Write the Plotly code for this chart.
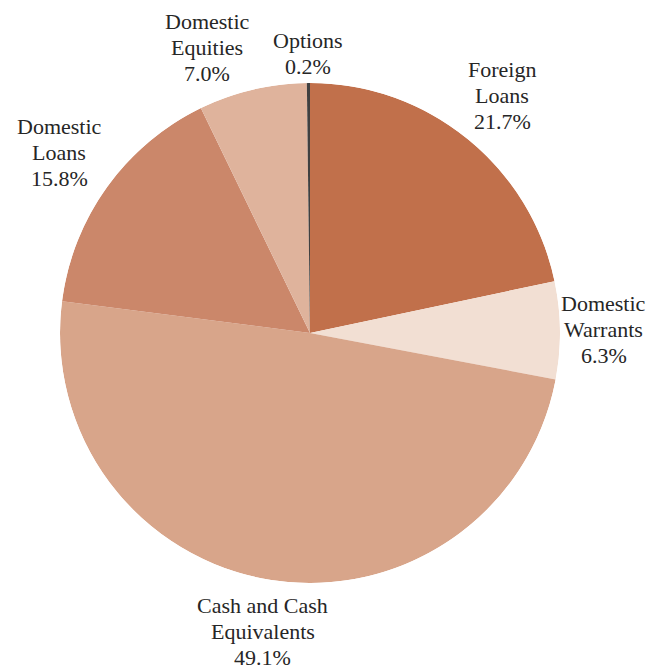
import math
import plotly.graph_objects as go

# ---- data ----
label_lines = [["Foreign", "Loans"], ["Domestic", "Warrants"], ["Cash and Cash", "Equivalents"],
               ["Domestic", "Loans"], ["Domestic", "Equities"], ["Options"]]
labels = [" ".join(l) for l in label_lines]
values = [21.7, 6.3, 49.1, 15.8, 7.0, 0.2]
colors = ["#C1704B", "#F2DFD3", "#D8A58A", "#CB876A", "#DFB39C", "#404040"]

W, H = 662, 670
FONT = "Liberation Serif, Times New Roman, serif"
FS = 22
LINE = 26
TXT = "#262626"

# pie geometry (pixels)
CX, CY, R = 310, 333, 250
dom_x = [(CX - R) / W, (CX + R) / W]
dom_y = [1 - (CY + R) / H, 1 - (CY - R) / H]

total = sum(values)
widths = [v / total * 360 for v in values]
mids = []
cum = 0
for w in widths:
    mids.append(cum + w / 2)
    cum += w

fig = go.Figure(go.Barpolar(
    r=[1] * len(values),
    theta=mids,
    width=widths,
    marker=dict(color=colors, line=dict(width=0)),
    text=labels,
    showlegend=False,
    hoverinfo="skip",
))

# ---- label placement derived from slice angles ----
texts = [lines + [f"{v / total * 100:.1f}%"] for lines, v in zip(label_lines, values)]


def box_size(lines):
    w = max(len(s) for s in lines) * FS * 0.46
    h = len(lines) * LINE
    return w, h


def place(ang, w, h, gap=3):
    ux, uy = math.sin(ang), -math.cos(ang)
    d = R + gap + abs(ux) * w / 2 + abs(uy) * h / 2
    return CX + d * ux, CY + d * uy


angles = [math.radians(m) for m in mids]
sizes = [box_size(t) for t in texts]
PAD = 24


def overlap(i, j):
    xi, yi = place(angles[i], *sizes[i])
    xj, yj = place(angles[j], *sizes[j])
    return (abs(xi - xj) < (sizes[i][0] + sizes[j][0]) / 2 + PAD and
            abs(yi - yj) < (sizes[i][1] + sizes[j][1]) / 2)


# push the larger-slice label away from a smaller neighbour when they collide
n = len(values)
for i in range(n):
    j = (i + 1) % n
    for _ in range(80):
        if not overlap(i, j):
            break
        if values[i] >= values[j]:
            angles[i] -= math.radians(0.5)
        else:
            angles[j] += math.radians(0.5)

for t, ang, (w, h) in zip(texts, angles, sizes):
    x, y = place(ang, w, h)
    top = y - (len(t) - 1) * LINE / 2
    for k, s in enumerate(t):
        fig.add_annotation(
            x=x / W, y=1 - (top + k * LINE) / H, xref="paper", yref="paper",
            text=s, showarrow=False, xanchor="center", yanchor="middle",
            font=dict(family=FONT, size=FS, color=TXT),
        )

fig.update_layout(
    width=W, height=H,
    margin=dict(l=0, r=0, t=0, b=0),
    paper_bgcolor="white",
    font=dict(family=FONT, size=FS, color=TXT),
    polar=dict(
        domain=dict(x=dom_x, y=dom_y),
        bgcolor="white",
        bargap=0,
        hole=0,
        radialaxis=dict(range=[0, 1], visible=False, showgrid=False),
        angularaxis=dict(rotation=90, direction="clockwise", visible=False, showgrid=False),
    ),
)

fig.write_html("out.html")
